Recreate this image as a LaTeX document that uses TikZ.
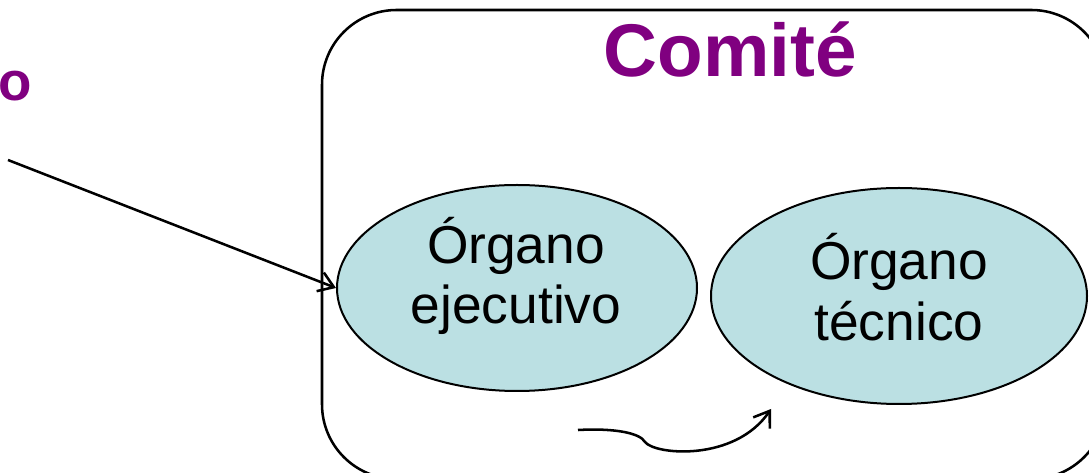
\documentclass[tikz,border=0pt]{standalone}
\usepackage{fontspec}
\setmainfont{Liberation Sans}
\usetikzlibrary{shapes.geometric,arrows.meta}
\definecolor{titlepurple}{RGB}{128,0,128}
\definecolor{ovalfill}{RGB}{187,224,227}
\tikzset{
  organ/.style={ellipse, draw=black, line width=1.5pt, fill=ovalfill, inner sep=0pt},
  organtext/.style={align=center, inner sep=0pt, font=\fontsize{40}{45.5}\selectfont},
  title/.style={text=titlepurple, font=\fontsize{56}{62}\selectfont\bfseries, inner sep=0pt},
  conn/.style={line width=1.9pt, -{Straight Barb[length=11pt,width=15pt,line width=1.9pt]}}
}
\begin{document}
\begin{tikzpicture}[x=0.75pt,y=-0.75pt]
\useasboundingbox (0,0) rectangle (1089,473);
\clip (0,0) rectangle (1089,473);
\draw[line width=1.9pt, rounded corners=56pt] (322,10) rectangle (1106,479);
\node[title, anchor=base] (comite) at (730,77) {Comité};
\node[text=titlepurple, font=\fontsize{41}{48}\selectfont\bfseries, inner sep=0pt, anchor=base west] (prev) at (-2,101) {o};
\node[organ, minimum width=270pt, minimum height=154.5pt] (e1) at (517,288) {};
\node[organ, minimum width=282pt, minimum height=162pt] (e2) at (899,296) {};
\node[organtext] (t1) at (516,276) {Órgano\\ejecutivo};
\node[organtext] (t2) at (899,287) {Órgano\\técnico};
\coordinate (a0) at (8,160);
\draw[conn] (a0) -- (e1.west);
\coordinate (c0) at (578,430);
\coordinate (c1) at (771,409);
\draw[conn] (c0) .. controls (615,428) and (640,433) .. (645,442)
  .. controls (655,455) and (735,462) .. (c1);
\end{tikzpicture}
\end{document}
